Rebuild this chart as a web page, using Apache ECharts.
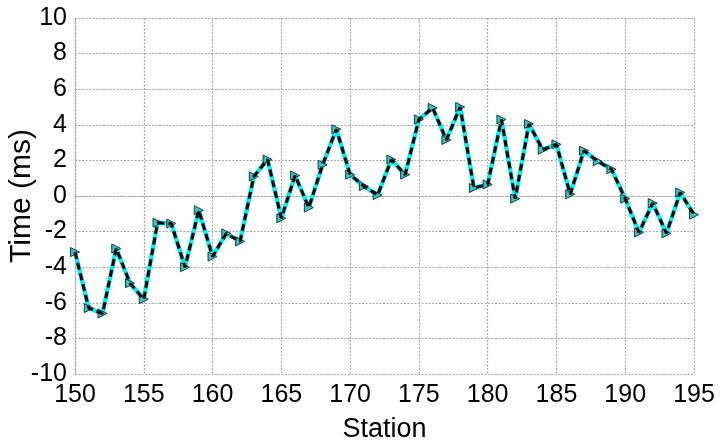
<!DOCTYPE html>
<html>
<head>
<meta charset="utf-8">
<script src="https://cdn.jsdelivr.net/npm/echarts@6/dist/echarts.min.js"></script>
<style>
html,body{margin:0;padding:0;background:#fff;}
#chart{width:721px;height:446px;}
</style>
</head>
<body>
<div id="chart"></div>
<script>
const stations = [150,151,152,153,154,155,156,157,158,159,160,161,162,163,164,165,166,167,168,169,170,171,172,173,174,175,176,177,178,179,180,181,182,183,184,185,186,187,188,189,190,191,192,193,194,195];
const timeMs = [-3.15,-6.3,-6.6,-2.95,-4.9,-5.8,-1.5,-1.55,-4.0,-0.8,-3.4,-2.1,-2.55,1.1,2.05,-1.25,1.15,-0.65,1.75,3.75,1.2,0.55,0.05,2.05,1.2,4.3,4.95,3.15,5.0,0.45,0.65,4.3,-0.15,4.05,2.6,2.9,0.1,2.55,1.95,1.5,-0.15,-2.05,-0.4,-2.1,0.2,-1.05];
const xTitle = 'Station';
const yTitle = 'Time (ms)';

const pts = stations.map((s, i) => [s, timeMs[i]]);
const font = 'Liberation Sans, Arial, sans-serif';
const gridLine = {show: true, lineStyle: {color: '#a8a8a8', type: [2, 1.5], width: 1.2}};

const chart = echarts.init(document.getElementById('chart'));
chart.setOption({
  animation: false,
  backgroundColor: '#fff',
  grid: {left: 75, right: 27, top: 18, bottom: 72, containLabel: false, outerBoundsMode: 'none'},
  xAxis: {
    type: 'value', min: 150, max: 195, interval: 5,
    name: xTitle, nameLocation: 'middle', nameGap: 42, nameMoveOverlap: false,
    nameTextStyle: {color: '#000', fontSize: 27, fontFamily: font},
    axisLine: {show: true, lineStyle: {color: '#a8a8a8', type: [2, 1.5], width: 1.2}},
    axisTick: {show: false},
    axisLabel: {color: '#000', fontSize: 25, fontFamily: font, margin: 9},
    splitLine: gridLine
  },
  yAxis: {
    type: 'value', min: -10, max: 10, interval: 2,
    name: yTitle, nameLocation: 'middle', nameGap: 38, nameMoveOverlap: false,
    nameTextStyle: {color: '#000', fontSize: 30, fontFamily: font},
    axisLine: {show: true, lineStyle: {color: '#a8a8a8', type: [2, 1.5], width: 1.2}},
    axisTick: {show: false},
    axisLabel: {color: '#000', fontSize: 25, fontFamily: font, margin: 8},
    splitLine: gridLine
  },
  series: [
    {
      type: 'line', data: pts, z: 2,
      lineStyle: {color: '#00f0f0', width: 4.5, type: 'solid'},
      symbol: 'triangle', symbolRotate: -90, symbolSize: 9, showSymbol: true,
      itemStyle: {color: '#30c8c8', borderColor: '#1a3a3a', borderWidth: 1}
    },
    {
      type: 'line', data: pts, z: 3,
      lineStyle: {color: '#000', width: 3, type: [7, 4]},
      symbol: 'none'
    }
  ]
});
</script>
</body>
</html>
